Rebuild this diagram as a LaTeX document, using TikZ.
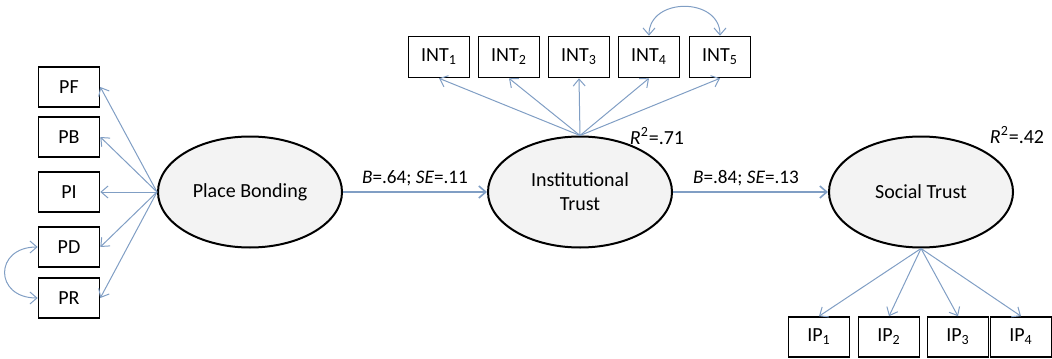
\documentclass[tikz,border=0pt]{standalone}
\usepackage{fontspec}
\setmainfont{Carlito}
\usetikzlibrary{shapes.geometric,arrows.meta}
\definecolor{pathblue}{RGB}{128,158,196}
\definecolor{latentgray}{RGB}{243,243,243}

\begin{document}
\begin{tikzpicture}[x=0.5pt,y=-0.5pt,->,>={Straight Barb[length=3.5pt,width=6pt]},font=\fontsize{10}{12}\selectfont,
    item/.style={draw=black,line width=0.8pt,minimum width=30.5pt,minimum height=20pt,inner sep=0pt},
    latent/.style={ellipse,draw=black,line width=1pt,fill=latentgray,inner sep=0pt,align=center,minimum width=92pt,minimum height=55.5pt},
    loading/.style={draw=pathblue,line width=0.5pt},
    effect/.style={draw=pathblue,line width=0.8pt}]
                \useasboundingbox (0,0) rectangle (1052,358);
                % latent variables
                \node[latent] (bond) at (250,192) {Place Bonding};
                \node[latent] (inst) at (580,192) {Institutional\\Trust};
                \node[latent] (soc) at (921,192) {Social Trust};
                % indicators
                \node[item] (pf) at (69,87) {PF};
                \node[item] (pb) at (69,137) {PB};
                \node[item] (pi) at (69,192) {PI};
                \node[item] (pd) at (69,247) {PD};
                \node[item] (pr) at (69,298) {PR};
                \foreach \i/\x in {1/439,2/509,3/579,4/649,5/720}
                    \node[item,minimum height=20.5pt] (int\i) at (\x,57) {INT\textsubscript{\i}};
                \foreach \i/\x in {1/819,2/889,3/958,4/1021}
                    \node[item] (ip\i) at (\x,337) {IP\textsubscript{\i}};
                % loadings
                \foreach \n in {pf,pb,pi,pd,pr}
                    \draw[loading] (bond.west)--(\n.east);
                \foreach \i in {1,...,5}
                    \draw[loading] (inst.north)--(int\i.south);
                \foreach \i in {1,...,4}
                    \draw[loading] (soc.south)--(ip\i.north);
                \draw[loading,<->] (pd.west) to[out=180,in=180,looseness=2.2] (pr.west);
                \draw[loading,<->] (int4.north) to[out=90,in=90,looseness=1.4] (int5.north);
                % structural paths
                \draw[effect] (bond.east)--(inst.west);
                \draw[effect] (inst.east)--(soc.west);
                \node[-] (b1) at (415,178) {\fontsize{9.6}{11}\selectfont\textit{B}=.64; \textit{SE}=.11};
                \node[-] (b2) at (746,178) {\fontsize{9.6}{11}\selectfont\textit{B}=.84; \textit{SE}=.13};
                \node[-] (r1) at (657,136) {\textit{R}\textsuperscript{2}=.71};
                \node[-] (r2) at (1017,135) {\textit{R}\textsuperscript{2}=.42};
\end{tikzpicture}
\end{document}
